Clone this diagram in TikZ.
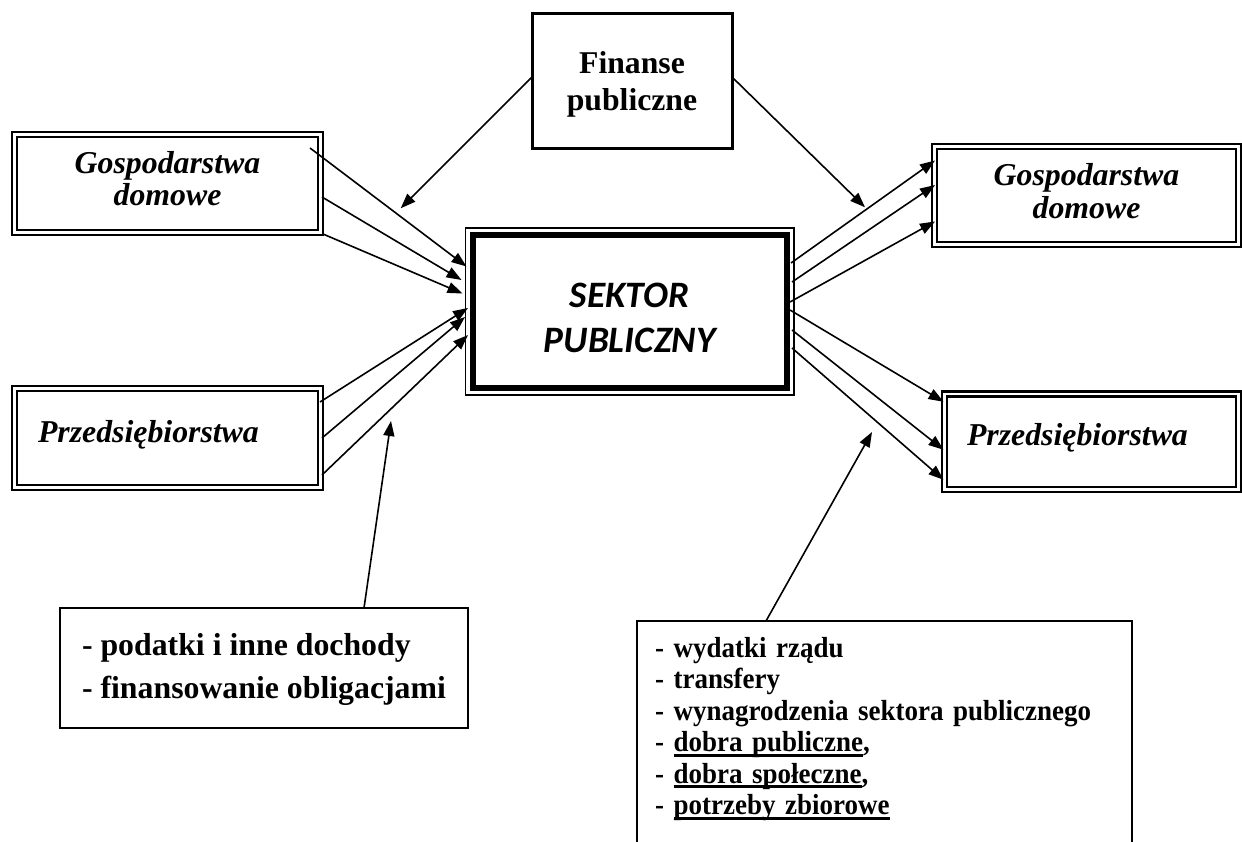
\documentclass[tikz,border=0pt]{standalone}
\usepackage{fontspec}
\setmainfont{Liberation Serif}
\newfontfamily\calib{Carlito}
\newfontfamily\condf[FakeStretch=0.93]{Liberation Serif}
\usetikzlibrary{arrows.meta}
\newcommand{\ulx}[1]{\setbox0\hbox{#1}\rlap{\rule[-5pt]{\wd0}{2.8pt}}\box0}
\begin{document}
\begin{tikzpicture}[x=1pt,y=-1pt,
  side/.style={draw, double, line width=2.4pt, double distance=2.6pt, inner sep=0pt, outer sep=0pt,
    font=\fontsize{31.8}{32}\selectfont\bfseries\itshape},
  arr/.style={line width=1.6pt, -{Triangle[length=15pt,width=11pt]}},
  plainbox/.style={draw, line width=1.6pt, inner sep=0pt, outer sep=0pt}]
\useasboundingbox (0,0) rectangle (1242,841);
\clip (0,0) rectangle (1242,841);
\fill[white] (0,0) rectangle (1242,841);

% boxes
\node[side, minimum width=306pt, minimum height=98pt, align=center, text height=45pt, text depth=2pt]
  (gdl) at (167.5,183.5) {Gospodarstwa\\domowe};
\node[side, minimum width=306pt, minimum height=99pt, text width=259pt, align=left, text height=10pt, text depth=2pt]
  (pl) at (167.5,438) {Przedsiębiorstwa};
\node[side, minimum width=304pt, minimum height=98pt, align=center, text height=47pt, text depth=2pt,
  font=\fontsize{31.8}{33}\selectfont\bfseries\itshape]
  (gdr) at (1086.5,195.5) {Gospodarstwa\\domowe};
\node[side, minimum width=294pt, minimum height=95.5pt, text width=249pt, align=left, text height=10pt, text depth=3.5pt]
  (prr) at (1091.5,441.75) {Przedsiębiorstwa};

\node[draw, line width=1.5pt, inner sep=0pt, outer sep=0pt, minimum width=328.5pt, minimum height=167pt,
  align=center, text height=85pt, text depth=4pt, font=\fontsize{37.3}{45}\selectfont\calib\bfseries\itshape]
  (sek) at (629.75,311.5) {SEKTOR\\PUBLICZNY};
\draw[line width=6pt] ([shift={(7,7)}]sek.north west) rectangle ([shift={(-7,-7)}]sek.south east);

\node[draw, line width=3pt, inner sep=0pt, outer sep=0pt, minimum width=200pt, minimum height=135pt,
  align=center, text height=62pt, text depth=3pt, font=\fontsize{31.7}{37}\selectfont\bfseries]
  (fin) at (632,80.5) {Finanse\\publiczne};

\node[plainbox, minimum width=408pt, minimum height=120pt, align=left, text height=62pt, text depth=2pt,
  font=\fontsize{31.8}{43}\selectfont\bfseries]
  (bl) at (264,668) {- podatki i inne dochody\\- finansowanie obligacjami};

\node[plainbox, minimum width=495pt, minimum height=279pt, text width=459pt, align=left, text height=10pt, text depth=217pt,
  font=\fontsize{29}{31.5}\selectfont\condf\bfseries]
  (br) at (884.5,760.5) {- wydatki rządu\\- transfery\\- wynagrodzenia sektora publicznego\\- \ulx{dobra publiczne},\\- \ulx{dobra społeczne},\\- \ulx{potrzeby zbiorowe}};

% free ends
\coordinate (fl) at (400.7,208.3);
\coordinate (fr) at (865,207.3);
\coordinate (ta) at (391,421);
\coordinate (tb) at (872,432);

% left inflows
\draw[arr] ([shift={(-10.5,13.5)}]gdl.north east) -- ([shift={(1,-45)}]sek.west);
\draw[arr] ([shift={(1.5,13.5)}]gdl.east) -- ([shift={(-4,-31.5)}]sek.west);
\draw[arr] ([shift={(2.5,1.5)}]gdl.south east) -- ([shift={(-3,-18)}]sek.west);
\draw[arr] ([shift={(-0.5,-36)}]pl.east) -- ([shift={(2.5,-3.5)}]sek.west);
\draw[arr] ([shift={(1.5,0)}]pl.east) -- ([shift={(-0.5,5.5)}]sek.west);
\draw[arr] ([shift={(1.5,37)}]pl.east) -- ([shift={(2.5,23.5)}]sek.west);

% right outflows
\draw[arr] ([shift={(-3,-48.5)}]sek.east) -- ([shift={(0.5,-35)}]gdr.west);
\draw[arr] ([shift={(-2,-29.5)}]sek.east) -- ([shift={(0.5,-10.5)}]gdr.west);
\draw[arr] ([shift={(-4,-9.5)}]sek.east) -- ([shift={(0.5,26)}]gdr.west);
\draw[arr] ([shift={(-4,-1.5)}]sek.east) -- ([shift={(-1,-40)}]prr.west);
\draw[arr] ([shift={(-2,18.5)}]sek.east) -- ([shift={(-1,8)}]prr.west);
\draw[arr] ([shift={(-2,36.5)}]sek.east) -- ([shift={(-1,38)}]prr.west);

% finanse
\draw[arr] ([shift={(0,-3.5)}]fin.west) -- (fl);
\draw[arr] ([shift={(0,-3.5)}]fin.east) -- (fr);

% annotations
\draw[arr] ([shift={(100,0)}]bl.north) -- (ta);
\draw[arr] ([shift={(-118.5,0)}]br.north) -- (tb);
\end{tikzpicture}
\end{document}
